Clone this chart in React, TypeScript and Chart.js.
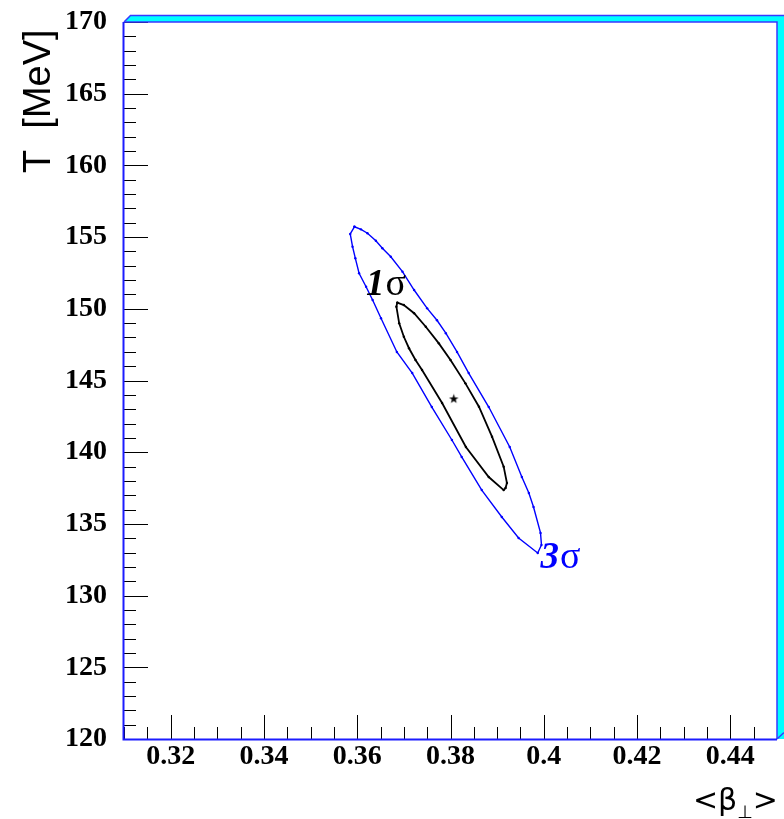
import React, { useEffect, useRef } from "react";
import { Chart, registerables } from "chart.js";

Chart.register(...registerables);

// ---- axis ticks / labels ----
const xTickValues = [0.32, 0.34, 0.36, 0.38, 0.4, 0.42, 0.44];
const xTickLabels = ["0.32", "0.34", "0.36", "0.38", "0.4", "0.42", "0.44"];
const yTickValues = [120, 125, 130, 135, 140, 145, 150, 155, 160, 165, 170];
const yTickLabels = ["120", "125", "130", "135", "140", "145", "150", "155", "160", "165", "170"];
const xRange = [0.31, 0.45];
const yRange = [120, 170];

// ---- 3 sigma contour (blue) ----
const contour3X = [
  0.3594, 0.3608, 0.3622, 0.364, 0.3654, 0.3672, 0.3697, 0.3722, 0.375, 0.3771, 0.379,
  0.3814, 0.3839, 0.3882, 0.3927, 0.3953, 0.3968, 0.3978, 0.3993, 0.3995, 0.3987,
  0.3946, 0.391, 0.3867, 0.3824, 0.3803, 0.376, 0.3718, 0.3685, 0.3651, 0.3633,
  0.3619, 0.3604, 0.3596, 0.359, 0.3585, 0.3594,
];
const contour3Y = [
  155.72, 155.54, 155.27, 154.75, 154.22, 153.63, 152.59, 151.31, 150.03, 149.2, 148.3,
  146.99, 145.52, 143.15, 140.36, 138.27, 137.15, 136.18, 134.37, 133.53, 132.97,
  134.02, 135.48, 137.36, 139.67, 140.85, 143.15, 145.52, 146.99, 149.34, 150.61,
  151.54, 152.48, 153.52, 154.33, 155.22, 155.72,
];

// ---- 1 sigma contour (black) ----
const contour1X = [
  0.3686, 0.37, 0.3722, 0.3747, 0.3775, 0.38, 0.3832, 0.3861, 0.3889, 0.3914,
  0.3921, 0.3918, 0.3914, 0.3882, 0.3833, 0.3782, 0.3739, 0.3725, 0.3711, 0.37,
  0.369, 0.3684, 0.3686,
];
const contour1Y = [
  150.43, 150.26, 149.69, 148.75, 147.59, 146.43, 144.8, 143.17, 141.08, 138.99,
  137.85, 137.5, 137.36, 138.27, 140.36, 143.43, 145.73, 146.43, 147.25, 148.05,
  148.99, 150.15, 150.43,
];

// ---- best fit point ----
const bestFitX = [0.3807];
const bestFitY = [143.71];

// ---- contour labels ----
const labelNumbers = ["1", "3"];
const labelX = [0.3619, 0.3993];
const labelY = [150.96, 131.92];
const labelColors = ["#000000", "#0000ff"];

const yTitle = "T  [MeV]";
const xTitleMain = "<β";
const xTitleSub = "⊥";
const xTitleEnd = ">";

function makeStar(): HTMLCanvasElement {
  const c = document.createElement("canvas");
  c.width = 11;
  c.height = 11;
  const g = c.getContext("2d")!;
  g.fillStyle = "#000";
  g.beginPath();
  for (let i = 0; i < 10; i++) {
    const r = i % 2 === 0 ? 5 : 2;
    const a = -Math.PI / 2 + (i * Math.PI) / 5;
    const px = 5.5 + r * Math.cos(a);
    const py = 5.5 + r * Math.sin(a);
    if (i === 0) g.moveTo(px, py);
    else g.lineTo(px, py);
  }
  g.closePath();
  g.fill();
  return c;
}

const framePlugin = {
  id: "rootFrame",
  beforeDatasetsDraw(chart: any) {
    const { ctx, chartArea, scales } = chart;
    const { left, bottom } = chartArea;
    const xs = scales.x;
    const ys = scales.y;
    ctx.save();
    ctx.strokeStyle = "#000";
    ctx.lineWidth = 1;
    // y ticks
    for (let v = yRange[0]; v <= yRange[1]; v += 1) {
      const py = Math.round(ys.getPixelForValue(v)) + 0.5;
      const len = v % 5 === 0 ? 24 : 12;
      ctx.beginPath();
      ctx.moveTo(left, py);
      ctx.lineTo(left + len, py);
      ctx.stroke();
    }
    // x ticks
    for (let i = 0; i <= 28; i++) {
      const v = xRange[0] + i * 0.005;
      const px = Math.round(xs.getPixelForValue(v)) + 0.5;
      const isMajor = xTickValues.some((t) => Math.abs(t - v) < 1e-6);
      const len = isMajor ? 24 : 12;
      ctx.beginPath();
      ctx.moveTo(px, bottom);
      ctx.lineTo(px, bottom - len);
      ctx.stroke();
    }
    ctx.restore();
  },
  afterDraw(chart: any) {
    const { ctx, chartArea, scales, width } = chart;
    const { left, right, top, bottom } = chartArea;
    ctx.save();
    // cyan bevel border (top & right)
    const bs = 6.5;
    ctx.fillStyle = "#00ffff";
    ctx.beginPath();
    ctx.moveTo(left, top);
    ctx.lineTo(left + bs, top - bs);
    ctx.lineTo(width, top - bs);
    ctx.lineTo(width, bottom);
    ctx.lineTo(right, bottom);
    ctx.lineTo(right, top);
    ctx.closePath();
    ctx.fill();
    ctx.strokeStyle = "#3838ff";
    ctx.lineWidth = 1.5;
    ctx.beginPath();
    ctx.moveTo(left, top);
    ctx.lineTo(left + bs, top - bs);
    ctx.lineTo(width, top - bs);
    ctx.stroke();
    ctx.beginPath();
    ctx.moveTo(left, top);
    ctx.lineTo(right, top);
    ctx.lineTo(right, bottom);
    ctx.stroke();
    ctx.beginPath();
    ctx.moveTo(right, bottom);
    ctx.lineTo(width, bottom - bs);
    ctx.stroke();
    // left and bottom axis lines
    ctx.strokeStyle = "#1c1cff";
    ctx.lineWidth = 2;
    ctx.beginPath();
    ctx.moveTo(left - 0.5, top);
    ctx.lineTo(left - 0.5, bottom + 0.5);
    ctx.lineTo(right, bottom + 0.5);
    ctx.stroke();

    // contour labels
    const xs = scales.x;
    const ys = scales.y;
    for (let i = 0; i < labelNumbers.length; i++) {
      const px = xs.getPixelForValue(labelX[i]);
      const py = ys.getPixelForValue(labelY[i]);
      ctx.fillStyle = labelColors[i];
      ctx.textBaseline = "alphabetic";
      ctx.textAlign = "left";
      ctx.font = "italic bold 37px 'Liberation Serif'";
      ctx.fillText(labelNumbers[i], px, py);
      const w = ctx.measureText(labelNumbers[i]).width;
      ctx.font = "38px 'Liberation Serif'";
      ctx.fillText("σ", px + w + 1, py);
    }

    // y title
    ctx.fillStyle = "#000";
    ctx.save();
    ctx.translate(50, 173);
    ctx.rotate(-Math.PI / 2);
    ctx.font = "38px 'Liberation Sans'";
    ctx.textAlign = "left";
    ctx.textBaseline = "alphabetic";
    ctx.fillText(yTitle, 0, 0);
    ctx.restore();

    // x title, right aligned at frame right
    const mainFont = "30px 'DejaVu Sans'";
    const subFont = "18px 'DejaVu Sans'";
    ctx.font = mainFont;
    const w1 = ctx.measureText(xTitleMain).width;
    const w3 = ctx.measureText(xTitleEnd).width;
    ctx.font = subFont;
    const w2 = ctx.measureText(xTitleSub).width;
    const base = 810;
    const x0 = right + 1 - (w1 + w2 + w3);
    ctx.textAlign = "left";
    ctx.textBaseline = "alphabetic";
    ctx.font = mainFont;
    ctx.fillText(xTitleMain, x0, base);
    ctx.font = subFont;
    ctx.fillText(xTitleSub, x0 + w1, base + 8);
    ctx.font = mainFont;
    ctx.fillText(xTitleEnd, x0 + w1 + w2, base);
    ctx.restore();
  },
};

export default function App() {
  const ref = useRef<HTMLCanvasElement | null>(null);
  useEffect(() => {
    if (!ref.current) return;
    const star = makeStar();
    const chart = new Chart(ref.current, {
      type: "scatter",
      data: {
        datasets: [
          {
            data: contour3X.map((x, i) => ({ x, y: contour3Y[i] })),
            showLine: true,
            borderColor: "#0000ff",
            borderWidth: 1.4,
            pointRadius: 1.2,
            pointBackgroundColor: "#0000ff",
            pointBorderWidth: 0,
            tension: 0,
          },
          {
            data: contour1X.map((x, i) => ({ x, y: contour1Y[i] })),
            showLine: true,
            borderColor: "#000000",
            borderWidth: 1.8,
            pointRadius: 1.2,
            pointBackgroundColor: "#000000",
            pointBorderWidth: 0,
            tension: 0,
          },
          {
            data: bestFitX.map((x, i) => ({ x, y: bestFitY[i] })),
            showLine: false,
            pointStyle: star as any,
            pointRadius: 6,
          },
        ],
      },
      options: {
        responsive: false,
        animation: false,
        devicePixelRatio: 1,
        layout: { padding: { top: 22, right: 5, left: 0, bottom: 0 } },
        plugins: { legend: { display: false }, tooltip: { enabled: false } },
        scales: {
          x: {
            type: "linear",
            min: xRange[0],
            max: xRange[1],
            afterFit: (s: any) => {
              s.height = 80;
              s.paddingLeft = 0;
              s.paddingRight = 0;
            },
            afterBuildTicks: (s: any) => {
              s.ticks = xTickValues.map((v) => ({ value: v }));
            },
            ticks: {
              callback: (_v: any, i: number) => xTickLabels[i],
              font: { family: "'Liberation Serif'", weight: "bold", size: 28 },
              color: "#000",
              padding: 1,
              maxRotation: 0,
              autoSkip: false,
            },
            grid: { display: false, drawTicks: false },
            border: { display: false },
          },
          y: {
            type: "linear",
            min: yRange[0],
            max: yRange[1],
            afterFit: (s: any) => {
              s.width = 124;
              s.paddingTop = 0;
              s.paddingBottom = 0;
            },
            afterBuildTicks: (s: any) => {
              s.ticks = yTickValues.map((v) => ({ value: v }));
            },
            ticks: {
              callback: (_v: any, i: number) => yTickLabels[i],
              font: { family: "'Liberation Serif'", weight: "bold", size: 28 },
              color: "#000",
              padding: 17,
              autoSkip: false,
            },
            grid: { display: false, drawTicks: false },
            border: { display: false },
          },
        },
      },
      plugins: [framePlugin],
    });
    return () => chart.destroy();
  }, []);
  return (
    <div style={{ position: "absolute", left: 0, top: 0, width: 784, height: 819, background: "#fff" }}>
      <canvas ref={ref} width={784} height={819} style={{ display: "block" }} />
    </div>
  );
}
